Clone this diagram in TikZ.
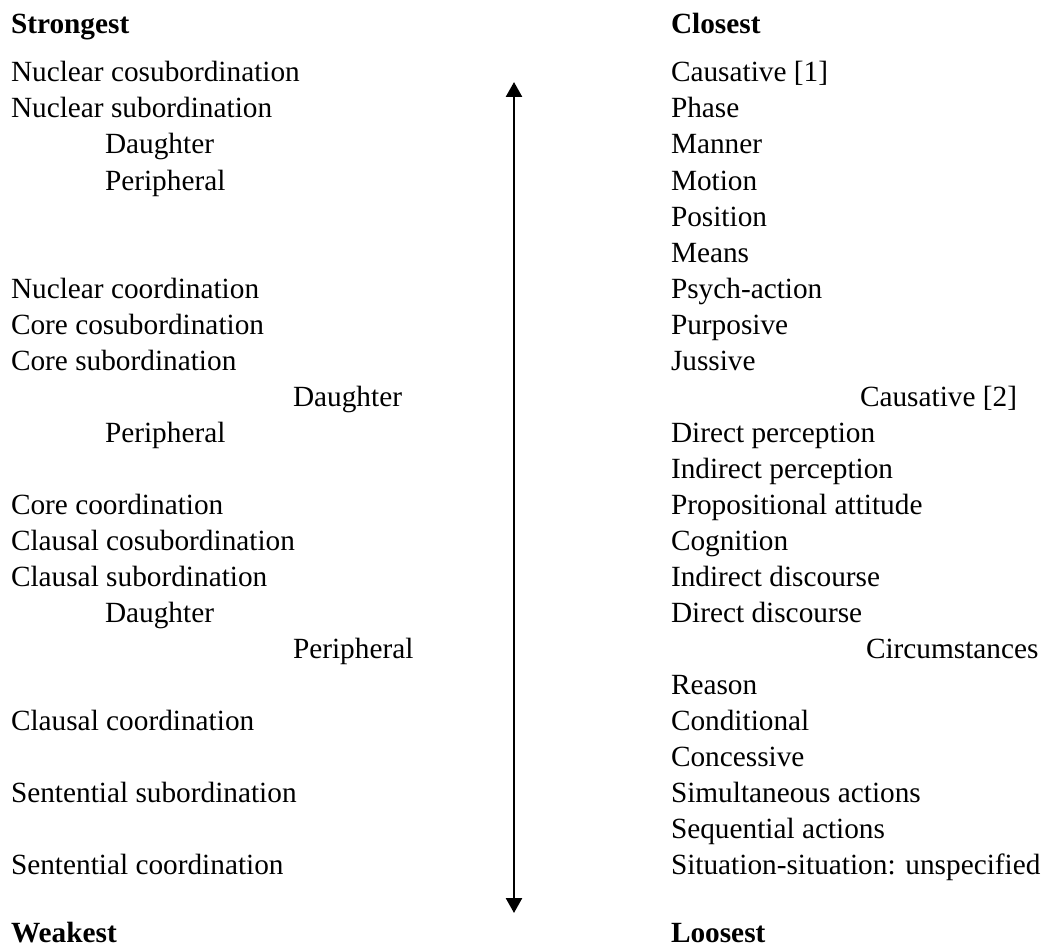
\documentclass[tikz,border=0pt]{standalone}
\usepackage{fontspec}
\setmainfont{Liberation Serif}
\usetikzlibrary{arrows.meta}
\tikzset{
  lbl/.style={anchor=base west, inner sep=0pt, outer sep=0pt, font=\fontsize{29.3}{34}\selectfont},
  hdr/.style={lbl, font=\fontsize{29.3}{34}\selectfont\bfseries},
  scalearrow/.style={line width=2.6pt, {Triangle[width=16pt,length=15pt]}-{Triangle[width=16pt,length=15pt]}}
}
\begin{document}
\begin{tikzpicture}[x=1pt,y=-1pt]
\useasboundingbox (0,0) rectangle (1042,947);
\def\LX{11}\def\IA{105}\def\IB{293}\def\RX{671}
% headers
\node[hdr] (strongest) at (\LX,34) {Strongest};
\node[hdr] (weakest) at (\LX,942) {Weakest};
\node[hdr] (closest) at (\RX,34) {Closest};
\node[hdr] (loosest) at (\RX,942) {Loosest};
% left column
\node[lbl] (l0) at (\LX,82) {Nuclear cosubordination};
\node[lbl] (l1) at (\LX,118) {Nuclear subordination};
\node[lbl] (l2) at (\IA,154) {Daughter};
\node[lbl] (l3) at (\IA,190) {Peripheral};
\node[lbl] (l6) at (\LX,298) {Nuclear coordination};
\node[lbl] (l7) at (\LX,334) {Core cosubordination};
\node[lbl] (l8) at (\LX,370) {Core subordination};
\node[lbl] (l9) at (\IB,406) {Daughter};
\node[lbl] (l10) at (\IA,442) {Peripheral};
\node[lbl] (l12) at (\LX,514) {Core coordination};
\node[lbl] (l13) at (\LX,550) {Clausal cosubordination};
\node[lbl] (l14) at (\LX,586) {Clausal subordination};
\node[lbl] (l15) at (\IA,622) {Daughter};
\node[lbl] (l16) at (\IB,658) {Peripheral};
\node[lbl] (l18) at (\LX,730) {Clausal coordination};
\node[lbl] (l20) at (\LX,802) {Sentential subordination};
\node[lbl] (l22) at (\LX,874) {Sentential coordination};
% right column
\node[lbl] (r0) at (\RX,82) {Causative [1]};
\node[lbl] (r1) at (\RX,118) {Phase};
\node[lbl] (r2) at (\RX,154) {Manner};
\node[lbl] (r3) at (\RX,190) {Motion};
\node[lbl] (r4) at (\RX,226) {Position};
\node[lbl] (r5) at (\RX,262) {Means};
\node[lbl] (r6) at (\RX,298) {Psych-action};
\node[lbl] (r7) at (\RX,334) {Purposive};
\node[lbl] (r8) at (\RX,370) {Jussive};
\node[lbl] (r9) at (860,406) {Causative [2]};
\node[lbl] (r10) at (\RX,442) {Direct perception};
\node[lbl] (r11) at (\RX,478) {Indirect perception};
\node[lbl] (r12) at (\RX,514) {Propositional attitude};
\node[lbl] (r13) at (\RX,550) {Cognition};
\node[lbl] (r14) at (\RX,586) {Indirect discourse};
\node[lbl] (r15) at (\RX,622) {Direct discourse};
\node[lbl] (r16) at (866,658) {Circumstances};
\node[lbl] (r17) at (\RX,694) {Reason};
\node[lbl] (r18) at (\RX,730) {Conditional};
\node[lbl] (r19) at (\RX,766) {Concessive};
\node[lbl] (r20) at (\RX,802) {Simultaneous actions};
\node[lbl] (r21) at (\RX,838) {Sequential actions};
\node[lbl] (r22) at (\RX,874) {Situation-situation: unspecified};
% arrow
\coordinate (atop) at (514,82);
\coordinate (abot) at (514,913);
\draw[scalearrow] (atop) -- (abot);
\end{tikzpicture}
\end{document}
